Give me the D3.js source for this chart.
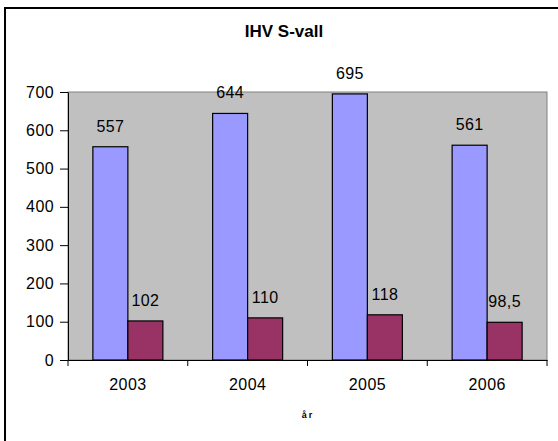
<!DOCTYPE html>
<html>
<head>
<meta charset="utf-8">
<script src="https://cdn.jsdelivr.net/npm/d3@7"></script>
<style>
  body { margin: 0; background: #fff; }
  text { font-family: Arial, "Liberation Sans", sans-serif; }
</style>
</head>
<body>
<div class="chart"></div>
<script>
// data
const years = ['2003', '2004', '2005', '2006'];
const seriesA = [557, 644, 695, 561];
const seriesB = [102, 110, 118, 98.5];
const yTicks = [0, 100, 200, 300, 400, 500, 600, 700];

const width = 558;
const height = 441;
const margin = { top: 92, right: 11, bottom: 81, left: 68 };
const chart_width = width - margin.left - margin.right;
const chart_height = height - margin.top - margin.bottom;

const svg = d3.select('.chart').append('svg')
  .attr('width', width).attr('height', height);

// outer frame (runs off the right and bottom edge)
svg.append('rect')
  .attr('x', 5).attr('y', 8)
  .attr('width', width + 20).attr('height', height + 20)
  .attr('fill', '#fff').attr('stroke', '#000').attr('stroke-width', 2);

svg.append('text')
  .attr('x', 284).attr('y', 37)
  .attr('text-anchor', 'middle')
  .attr('font-size', 17).attr('font-weight', 'bold')
  .text('IHV S-vall');

const g = svg.append('g').attr('transform', `translate(${margin.left},${margin.top})`);

const yScale = d3.scaleLinear().domain([0, 700]).range([chart_height, 0]);
const xScale = d3.scaleBand().domain(years).range([0, chart_width]);
const inner = d3.scaleBand().domain(['a', 'b'])
  .range([xScale.bandwidth() / 2 - 35, xScale.bandwidth() / 2 + 35]);

g.append('rect')
  .attr('width', chart_width).attr('height', chart_height)
  .attr('fill', '#c0c0c0').attr('stroke', '#808080').attr('stroke-width', 1);

const series = [
  { key: 'a', values: seriesA, color: '#9999ff' },
  { key: 'b', values: seriesB, color: '#993366' }
];

series.forEach(s => {
  g.selectAll('.bar-' + s.key)
    .data(s.values)
    .enter().append('rect')
    .attr('class', 'bar-' + s.key)
    .attr('x', (d, i) => xScale(years[i]) + inner(s.key))
    .attr('y', d => yScale(d))
    .attr('width', inner.bandwidth())
    .attr('height', d => chart_height - yScale(d))
    .attr('fill', s.color)
    .attr('stroke', '#000').attr('stroke-width', 1.2);

  g.selectAll('.lbl-' + s.key)
    .data(s.values)
    .enter().append('text')
    .attr('x', (d, i) => xScale(years[i]) + inner(s.key) + inner.bandwidth() / 2)
    .attr('y', d => yScale(d) - 15)
    .attr('text-anchor', 'middle')
    .attr('font-size', 16).attr('letter-spacing', 0.4)
    .text(d => String(d).replace('.', ','));
});

const yAxis = d3.axisLeft(yScale).tickValues(yTicks).tickSize(8).tickPadding(6).tickSizeOuter(0);
const yAxisDraw = g.append('g').call(yAxis).attr('font-size', 16).attr('font-family', null);
yAxisDraw.selectAll('text').attr('fill', '#000').attr('letter-spacing', 0.4);

const xAxis = d3.axisBottom(xScale).tickSize(0).tickPadding(19).tickSizeOuter(0);
const xAxisDraw = g.append('g').attr('transform', `translate(0,${chart_height})`).call(xAxis)
  .attr('font-size', 16).attr('font-family', null);
xAxisDraw.selectAll('text').attr('fill', '#000').attr('letter-spacing', 0.4);
xAxisDraw.selectAll('.tick-mark')
  .data(d3.range(years.length + 1))
  .enter().append('line')
  .attr('x1', i => i * xScale.step()).attr('x2', i => i * xScale.step())
  .attr('y1', 0).attr('y2', 6)
  .attr('stroke', '#000');
g.selectAll('.domain').attr('stroke', '#000');

svg.append('text')
  .attr('x', 308).attr('y', 418)
  .attr('text-anchor', 'middle')
  .attr('font-size', 9).attr('font-weight', 'bold').attr('letter-spacing', 2)
  .text('år');
</script>
</body>
</html>
